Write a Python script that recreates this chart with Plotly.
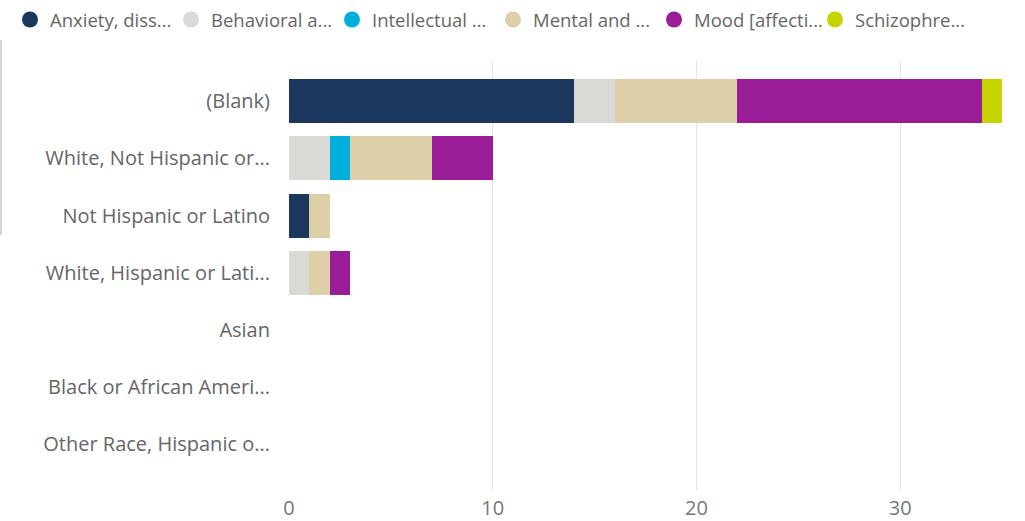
import plotly.graph_objects as go

categories = ["(Blank)", "White, Not Hispanic or...", "Not Hispanic or Latino",
              "White, Hispanic or Lati...", "Asian", "Black or African Ameri...",
              "Other Race, Hispanic o..."]
series_names = ["Anxiety, diss...", "Behavioral a...", "Intellectual ...",
                "Mental and ...", "Mood [affecti...", "Schizophre..."]
anxiety = [14, 0, 1, 0, 0, 0, 0]
behavioral = [2, 2, 0, 1, 0, 0, 0]
intellectual = [0, 1, 0, 0, 0, 0, 0]
mental = [6, 4, 1, 1, 0, 0, 0]
mood = [12, 3, 0, 1, 0, 0, 0]
schizo = [1, 0, 0, 0, 0, 0, 0]
colors = ["#1c375e", "#d9d9d6", "#00b0da", "#ddcfa7", "#9a1c96", "#c6d500"]
x_ticks = [0, 10, 20, 30]

series_values = [anxiety, behavioral, intellectual, mental, mood, schizo]

W, H = 1025, 521
L, R, T, B = 289, 23, 60, 31
pw = W - L - R
ph = H - T - B

fig = go.Figure()
for name, vals, col in zip(series_names, series_values, colors):
    fig.add_trace(go.Bar(
        y=categories, x=vals, orientation="h", name=name,
        marker=dict(color=col, line=dict(width=0)),
        showlegend=False, legendgroup=name,
    ))
for name, col in zip(series_names, colors):
    fig.add_trace(go.Scatter(
        x=[None], y=[None], mode="markers", name=name, legendgroup=name,
        marker=dict(color=col, size=16, symbol="circle"),
    ))

font_family = "Open Sans, DejaVu Sans, sans-serif"
fig.update_layout(
    width=W, height=H,
    margin=dict(l=L, r=R, t=T, b=B, pad=0, autoexpand=False),
    barmode="stack",
    bargap=0.23,
    plot_bgcolor="white", paper_bgcolor="white",
    font=dict(family=font_family, size=20, color="#666666"),
    legend=dict(orientation="h", xref="paper", yref="paper",
                x=(10 - L) / pw, y=(T + ph - 1) / ph,
                xanchor="left", yanchor="top",
                font=dict(size=18.5, color="#666666"),
                entrywidth=116, entrywidthmode="pixels",
                itemclick=False, tracegroupgap=0),
    xaxis=dict(range=[0, 35.0], tickvals=x_ticks, showgrid=True,
               gridcolor="#e6e6e6", gridwidth=1, zeroline=False,
               showline=False, ticks="", ticklabelstandoff=4,
               tickfont=dict(size=20, color="#777777")),
    yaxis=dict(categoryorder="array", categoryarray=categories,
               range=[6.8, -0.72], showgrid=False, zeroline=False,
               showline=False, ticks="", ticklabelstandoff=18,
               tickfont=dict(size=20, color="#666666")),
    shapes=[dict(type="line", xref="paper", yref="paper",
                 x0=(1 - L) / pw, x1=(1 - L) / pw,
                 y0=(T + ph - 40) / ph, y1=(T + ph - 235) / ph,
                 line=dict(color="#c8c8c8", width=1.5))],
)

fig.write_html("out.html", config={"displayModeBar": False},
               post_script="document.body.style.margin='0';")
